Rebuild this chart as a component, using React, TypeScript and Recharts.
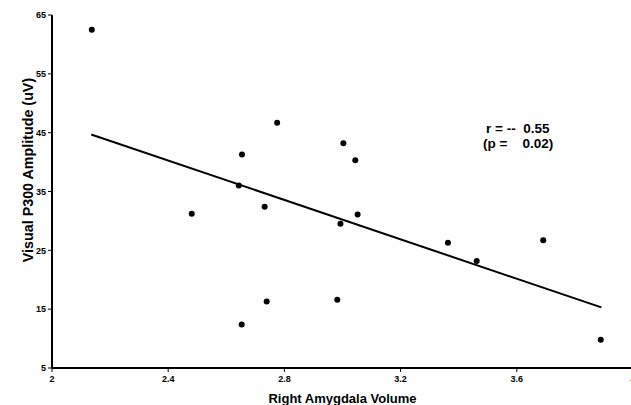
import React from "react";
import {
  ScatterChart,
  Scatter,
  XAxis,
  YAxis,
  ReferenceLine,
} from "recharts";

// right amygdala volume vs visual P300 amplitude
const volume = [
  2.137, 2.481, 2.654, 2.643, 2.732, 2.775, 2.653, 2.739, 3.003, 3.044, 3.052,
  2.993, 2.982, 3.363, 3.462, 3.691, 3.889,
];
const amplitude = [
  62.5, 31.2, 41.3, 36.0, 32.4, 46.7, 12.4, 16.3, 43.2, 40.3, 31.1, 29.5, 16.6,
  26.3, 23.2, 26.7, 9.8,
];

const xTicks = [2, 2.4, 2.8, 3.2, 3.6, 4];
const yTicks = [5, 15, 25, 35, 45, 55, 65];

// fitted line end points
const fitX = [2.135, 3.891];
const fitY = [44.7, 15.3];

const statLines = ["r = --  0.55", "(p =    0.02)"];

const points = volume.map((v, i) => ({ x: v, y: amplitude[i] }));
const fitSegment = fitX.map((v, i) => ({ x: v, y: fitY[i] }));

const font = "'Liberation Sans', Arial, sans-serif";

const tickStyle = { fontSize: 9, fontWeight: 700, fill: "#000", fontFamily: font };

const statStyle: React.CSSProperties = {
  position: "absolute",
  fontFamily: font,
  fontWeight: 700,
  fontSize: 13.5,
  lineHeight: "15px",
  whiteSpace: "pre",
  color: "#000",
};

export default function App() {
  return (
    <div
      style={{
        position: "absolute",
        left: 0,
        top: 0,
        width: 631,
        height: 405,
        overflow: "hidden",
        background: "#fff",
      }}
    >
      <ScatterChart
        width={650}
        height={405}
        margin={{ top: 15, right: 17, bottom: 0, left: 0 }}
      >
        <XAxis
          type="number"
          dataKey="x"
          domain={[2, 4]}
          ticks={xTicks}
          tickFormatter={(v) => String(v)}
          height={37}
          tickSize={4}
          tickMargin={4}
          tick={tickStyle}
          axisLine={{ stroke: "#000", strokeWidth: 2 }}
          tickLine={{ stroke: "#000" }}
          label={{
            value: "Right Amygdala Volume",
            position: "insideBottom",
            offset: 2,
            style: { fontSize: 13, fontWeight: 700, fill: "#000", fontFamily: font },
          }}
        />
        <YAxis
          type="number"
          dataKey="y"
          domain={[5, 65]}
          ticks={yTicks}
          width={52}
          tickSize={4}
          tickMargin={2}
          tick={tickStyle}
          axisLine={{ stroke: "#000", strokeWidth: 2 }}
          tickLine={{ stroke: "#000" }}
          label={{
            content: () => (
              <text
                x={28}
                y={170}
                transform="rotate(-90 28 170)"
                textAnchor="middle"
                dominantBaseline="central"
                style={{ fontSize: 14.3, fontWeight: 700, fill: "#000", fontFamily: font }}
              >
                Visual P300 Amplitude (uV)
              </text>
            ),
          }}
        />
        <ReferenceLine
          segment={fitSegment}
          stroke="#000"
          strokeWidth={2}
          ifOverflow="visible"
        />
        <Scatter
          data={points}
          fill="#000"
          isAnimationActive={false}
          shape={(p: any) => <circle cx={p.cx} cy={p.cy} r={3} fill="#000" />}
        />
      </ScatterChart>
      <div style={{ ...statStyle, left: 486, top: 121 }}>{statLines[0]}</div>
      <div style={{ ...statStyle, left: 483, top: 136 }}>{statLines[1]}</div>
    </div>
  );
}
